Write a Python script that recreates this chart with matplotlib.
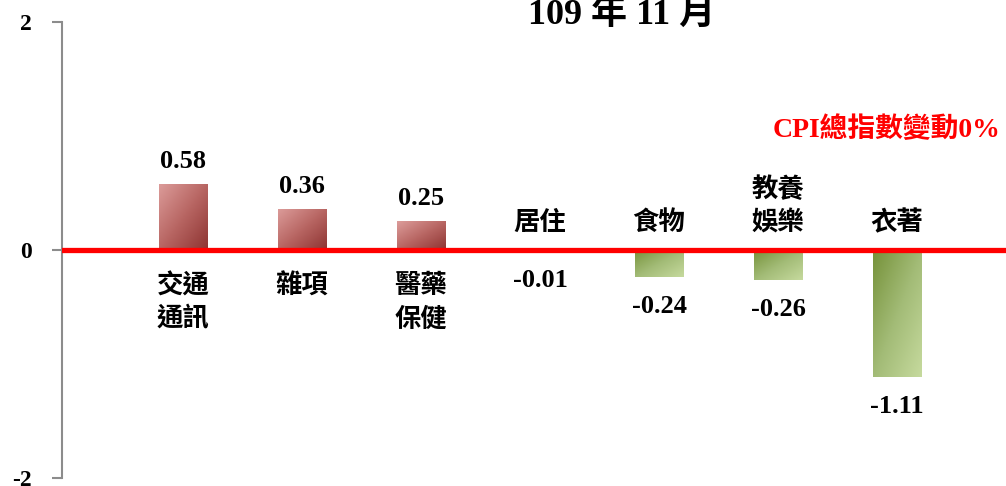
import numpy as np
import matplotlib
matplotlib.use("Agg")
import matplotlib.pyplot as plt
from matplotlib.colors import LinearSegmentedColormap

categories = ["交通\n通訊", "雜項", "醫藥\n保健", "居住", "食物", "教養\n娛樂", "衣著"]
values = [0.58, 0.36, 0.25, -0.01, -0.24, -0.26, -1.11]
value_labels = ["0.58", "0.36", "0.25", "-0.01", "-0.24", "-0.26", "-1.11"]
yticks = [-2, 0, 2]
title = "109 年 11 月"
ref_label = "CPI總指數變動0%"

W, H = 1006, 486
fig = plt.figure(figsize=(W / 100, H / 100), dpi=100)
ax = fig.add_axes([62 / W, (H - 478) / H, 1 - 62 / W, (478 - 22) / H])

serif_cjk = ["Liberation Serif", "Noto Sans CJK TC"]
cjk = ["Noto Sans CJK TC", "DejaVu Sans"]

x = np.arange(len(categories))
bars = ax.bar(x, values, width=0.41, facecolor="none", edgecolor="none", zorder=2)

pos_cmap = LinearSegmentedColormap.from_list("pos", ["#DC9C9A", "#B86663", "#8E3432"])
neg_cmap = LinearSegmentedColormap.from_list("neg", ["#76923A", "#A2BB76", "#C6DA9E"])
gx, gy = np.meshgrid(np.linspace(0, 1, 64), np.linspace(0, 1, 64))
grad = (gx + gy) / 2.0  # row 0 = top: top-left -> bottom-right

for b, v in zip(bars, values):
    x0, w = b.get_x(), b.get_width()
    y0, h = b.get_y(), b.get_height()
    lo, hi = min(y0, y0 + h), max(y0, y0 + h)
    cmap = pos_cmap if v >= 0 else neg_cmap
    im = ax.imshow(grad, cmap=cmap, extent=(x0, x0 + w, lo, hi), origin="upper",
                   aspect="auto", zorder=2, interpolation="bilinear")
    im.set_clip_path(b)

ax.axhline(0, color="#FF0000", lw=3.8, zorder=3)

for xi, v, lab in zip(x, values, value_labels):
    if v >= 0:
        ax.annotate(lab, (xi, v), xytext=(0, 8), textcoords="offset points",
                    ha="center", va="bottom", fontsize=19, fontweight="bold",
                    family="Liberation Serif", color="black")
    else:
        ax.annotate(lab, (xi, v), xytext=(0, -13), textcoords="offset points",
                    ha="center", va="top", fontsize=19, fontweight="bold",
                    family="Liberation Serif", color="black")

for xi, v, cat in zip(x, values, categories):
    if v >= 0:
        ax.annotate(cat, (xi, 0), xytext=(0, -16), textcoords="offset points",
                    ha="center", va="top", fontsize=19, fontweight="bold",
                    family=cjk, linespacing=1.3)
    else:
        ax.annotate(cat, (xi, 0), xytext=(0, 10), textcoords="offset points",
                    ha="center", va="bottom", fontsize=19, fontweight="bold",
                    family=cjk, linespacing=1.3)

ax.set_xlim(-1.017, 6.916)
ax.set_ylim(-2, 2)
ax.set_yticks(yticks)
ax.set_yticklabels([str(t) for t in yticks], fontsize=17, fontweight="bold",
                   family="Liberation Serif")
ax.tick_params(axis="y", direction="out", length=7, width=1.5, color="#8C8C8C", pad=15)
ax.set_xticks([])
for s in ["top", "right", "bottom"]:
    ax.spines[s].set_visible(False)
ax.spines["left"].set_color("#8C8C8C")
ax.spines["left"].set_linewidth(1.5)
ax.patch.set_visible(False)

fig.text(622 / W, 1 - 24 / H, title, ha="center", va="baseline", fontsize=26,
         fontweight="bold", family=serif_cjk)
fig.text(887 / W, 1 - 130 / H, ref_label, ha="center", va="center", fontsize=20,
         fontweight="bold", family=serif_cjk, color="#FF0000")

fig.savefig("out.png", dpi=100)
